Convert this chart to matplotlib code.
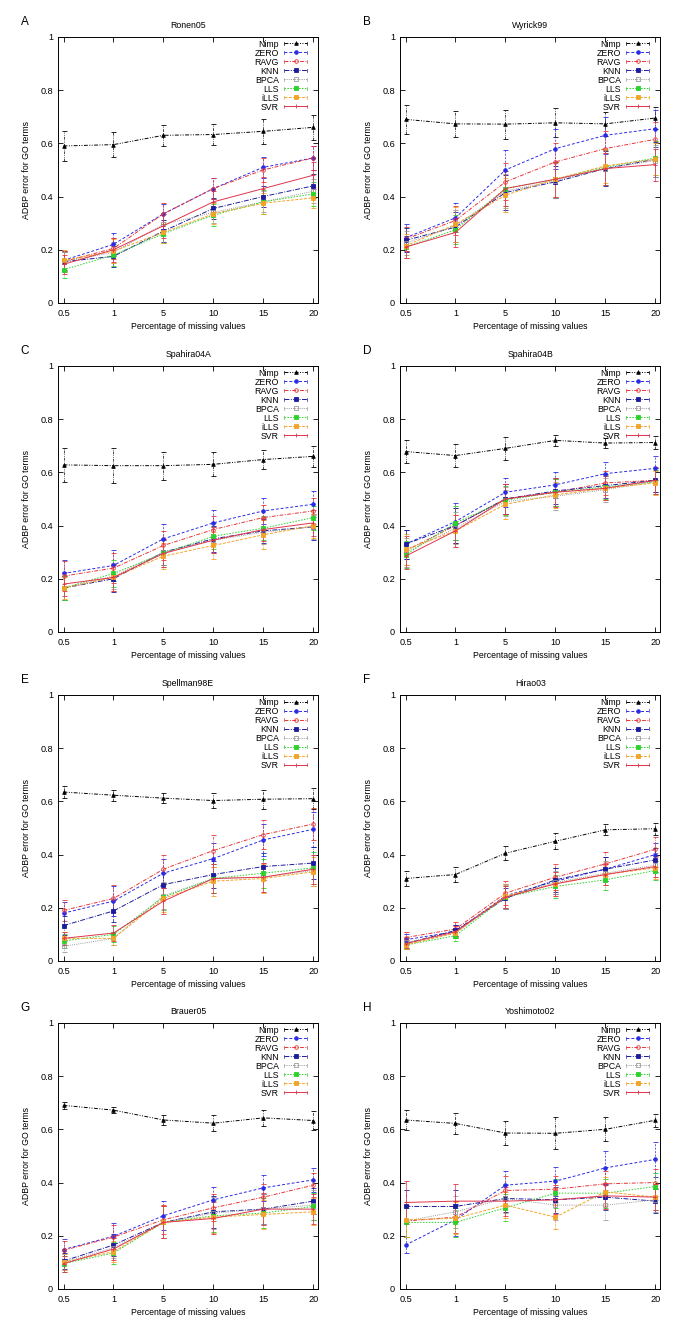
import numpy as np
import matplotlib
matplotlib.use('Agg')
import matplotlib.pyplot as plt
from matplotlib.ticker import FuncFormatter
from matplotlib.legend_handler import HandlerLine2D
from matplotlib.lines import Line2D

plt.rcParams['font.family'] = ['Liberation Sans', 'DejaVu Sans']

methods = ['Nimp', 'ZERO', 'RAVG', 'KNN', 'BPCA', 'LLS', 'iLLS', 'SVR']
missing = ['0.5', '1', '5', '10', '15', '20']
letters = ['A', 'B', 'C', 'D', 'E', 'F', 'G', 'H']
datasets = ['Ronen05', 'Wyrick99', 'Spahira04A', 'Spahira04B',
            'Spellman98E', 'Hirao03', 'Brauer05', 'Yoshimoto02']

# mean ADBP error, one row per method (same order as methods)
ronen05_mean = [
    [0.590, 0.595, 0.630, 0.633, 0.645, 0.660],
    [0.160, 0.220, 0.335, 0.430, 0.510, 0.545],
    [0.155, 0.205, 0.335, 0.430, 0.500, 0.545],
    [0.155, 0.175, 0.270, 0.355, 0.400, 0.440],
    [0.155, 0.190, 0.295, 0.340, 0.380, 0.420],
    [0.125, 0.180, 0.260, 0.330, 0.380, 0.410],
    [0.160, 0.195, 0.265, 0.335, 0.375, 0.395],
    [0.145, 0.200, 0.290, 0.380, 0.430, 0.480],
]
ronen05_err = [
    [0.055, 0.048, 0.040, 0.040, 0.048, 0.048],
    [0.035, 0.042, 0.038, 0.038, 0.040, 0.045],
    [0.040, 0.040, 0.040, 0.040, 0.045, 0.045],
    [0.035, 0.040, 0.040, 0.038, 0.040, 0.045],
    [0.035, 0.040, 0.040, 0.040, 0.040, 0.045],
    [0.030, 0.040, 0.035, 0.040, 0.045, 0.045],
    [0.040, 0.045, 0.040, 0.040, 0.040, 0.040],
    [0.035, 0.045, 0.045, 0.040, 0.045, 0.050],
]

wyrick99_mean = [
    [0.690, 0.673, 0.672, 0.677, 0.673, 0.695],
    [0.245, 0.320, 0.500, 0.580, 0.630, 0.655],
    [0.240, 0.310, 0.455, 0.530, 0.580, 0.615],
    [0.235, 0.285, 0.415, 0.455, 0.505, 0.540],
    [0.225, 0.290, 0.420, 0.460, 0.505, 0.535],
    [0.210, 0.275, 0.430, 0.465, 0.510, 0.545],
    [0.215, 0.295, 0.405, 0.465, 0.515, 0.540],
    [0.210, 0.265, 0.430, 0.465, 0.505, 0.520],
]
wyrick99_err = [
    [0.055, 0.050, 0.055, 0.055, 0.045, 0.040],
    [0.050, 0.055, 0.075, 0.075, 0.070, 0.070],
    [0.045, 0.055, 0.070, 0.070, 0.065, 0.065],
    [0.045, 0.055, 0.065, 0.060, 0.065, 0.065],
    [0.045, 0.060, 0.065, 0.065, 0.060, 0.060],
    [0.040, 0.055, 0.065, 0.065, 0.065, 0.065],
    [0.045, 0.065, 0.065, 0.065, 0.065, 0.060],
    [0.040, 0.055, 0.065, 0.065, 0.060, 0.060],
]

spahira04a_mean = [
    [0.628, 0.625, 0.625, 0.630, 0.648, 0.660],
    [0.220, 0.250, 0.350, 0.410, 0.455, 0.480],
    [0.210, 0.240, 0.325, 0.385, 0.430, 0.455],
    [0.165, 0.200, 0.300, 0.350, 0.380, 0.395],
    [0.165, 0.210, 0.300, 0.345, 0.375, 0.395],
    [0.165, 0.220, 0.295, 0.360, 0.390, 0.430],
    [0.165, 0.205, 0.285, 0.325, 0.365, 0.400],
    [0.180, 0.205, 0.295, 0.345, 0.385, 0.410],
]
spahira04a_err = [
    [0.065, 0.065, 0.053, 0.045, 0.037, 0.040],
    [0.050, 0.058, 0.055, 0.050, 0.048, 0.048],
    [0.055, 0.055, 0.055, 0.050, 0.048, 0.050],
    [0.045, 0.050, 0.050, 0.050, 0.045, 0.050],
    [0.045, 0.050, 0.050, 0.050, 0.045, 0.045],
    [0.045, 0.050, 0.050, 0.050, 0.045, 0.045],
    [0.040, 0.050, 0.050, 0.050, 0.055, 0.045],
    [0.045, 0.050, 0.050, 0.050, 0.045, 0.050],
]

spahira04b_mean = [
    [0.678, 0.663, 0.690, 0.720, 0.710, 0.712],
    [0.330, 0.415, 0.525, 0.553, 0.595, 0.615],
    [0.305, 0.400, 0.500, 0.525, 0.560, 0.570],
    [0.330, 0.400, 0.500, 0.530, 0.550, 0.570],
    [0.300, 0.390, 0.490, 0.510, 0.535, 0.565],
    [0.290, 0.410, 0.495, 0.525, 0.545, 0.565],
    [0.310, 0.380, 0.480, 0.515, 0.540, 0.560],
    [0.285, 0.380, 0.500, 0.525, 0.540, 0.570],
]
spahira04b_err = [
    [0.042, 0.043, 0.042, 0.020, 0.020, 0.025],
    [0.055, 0.070, 0.055, 0.050, 0.045, 0.045],
    [0.055, 0.065, 0.055, 0.050, 0.045, 0.045],
    [0.055, 0.065, 0.055, 0.050, 0.045, 0.045],
    [0.055, 0.060, 0.055, 0.050, 0.045, 0.045],
    [0.050, 0.065, 0.055, 0.050, 0.045, 0.045],
    [0.060, 0.060, 0.055, 0.050, 0.045, 0.045],
    [0.050, 0.060, 0.055, 0.055, 0.045, 0.050],
]

spellman98e_mean = [
    [0.635, 0.623, 0.612, 0.603, 0.608, 0.610],
    [0.180, 0.225, 0.330, 0.385, 0.455, 0.495],
    [0.190, 0.235, 0.345, 0.415, 0.475, 0.515],
    [0.133, 0.188, 0.287, 0.325, 0.355, 0.368],
    [0.055, 0.085, 0.245, 0.310, 0.315, 0.340],
    [0.075, 0.100, 0.240, 0.310, 0.330, 0.350],
    [0.085, 0.085, 0.235, 0.300, 0.310, 0.335],
    [0.085, 0.105, 0.225, 0.310, 0.315, 0.345],
]
spellman98e_err = [
    [0.022, 0.020, 0.018, 0.028, 0.035, 0.040],
    [0.040, 0.055, 0.055, 0.060, 0.060, 0.065],
    [0.040, 0.050, 0.055, 0.060, 0.055, 0.060],
    [0.035, 0.040, 0.045, 0.050, 0.050, 0.060],
    [0.020, 0.025, 0.050, 0.055, 0.055, 0.060],
    [0.025, 0.030, 0.050, 0.055, 0.055, 0.060],
    [0.025, 0.025, 0.050, 0.055, 0.055, 0.055],
    [0.025, 0.030, 0.050, 0.055, 0.055, 0.055],
]

hirao03_mean = [
    [0.310, 0.325, 0.405, 0.450, 0.493, 0.497],
    [0.080, 0.110, 0.245, 0.300, 0.345, 0.400],
    [0.088, 0.120, 0.255, 0.315, 0.365, 0.420],
    [0.065, 0.115, 0.235, 0.305, 0.345, 0.380],
    [0.070, 0.105, 0.240, 0.295, 0.330, 0.360],
    [0.060, 0.095, 0.240, 0.280, 0.305, 0.340],
    [0.060, 0.105, 0.245, 0.290, 0.325, 0.350],
    [0.065, 0.110, 0.240, 0.290, 0.325, 0.355],
]
hirao03_err = [
    [0.030, 0.028, 0.027, 0.030, 0.020, 0.022],
    [0.020, 0.025, 0.045, 0.050, 0.045, 0.045],
    [0.020, 0.025, 0.045, 0.050, 0.045, 0.045],
    [0.020, 0.020, 0.040, 0.045, 0.045, 0.045],
    [0.020, 0.020, 0.045, 0.045, 0.045, 0.045],
    [0.015, 0.020, 0.040, 0.045, 0.040, 0.035],
    [0.015, 0.020, 0.045, 0.045, 0.040, 0.040],
    [0.015, 0.020, 0.040, 0.045, 0.040, 0.040],
]

brauer05_mean = [
    [0.690, 0.672, 0.635, 0.623, 0.643, 0.633],
    [0.148, 0.198, 0.275, 0.335, 0.380, 0.410],
    [0.145, 0.195, 0.260, 0.305, 0.345, 0.390],
    [0.105, 0.165, 0.250, 0.290, 0.300, 0.330],
    [0.100, 0.155, 0.250, 0.285, 0.300, 0.315],
    [0.095, 0.135, 0.250, 0.275, 0.285, 0.310],
    [0.100, 0.140, 0.250, 0.270, 0.280, 0.290],
    [0.095, 0.150, 0.250, 0.265, 0.300, 0.300],
]
brauer05_err = [
    [0.012, 0.012, 0.020, 0.030, 0.030, 0.035],
    [0.040, 0.050, 0.055, 0.050, 0.050, 0.045],
    [0.035, 0.045, 0.055, 0.050, 0.050, 0.045],
    [0.030, 0.040, 0.060, 0.060, 0.055, 0.050],
    [0.030, 0.040, 0.060, 0.060, 0.055, 0.055],
    [0.030, 0.040, 0.060, 0.060, 0.055, 0.050],
    [0.030, 0.040, 0.060, 0.060, 0.055, 0.050],
    [0.030, 0.040, 0.060, 0.060, 0.060, 0.055],
]

yoshimoto02_mean = [
    [0.635, 0.622, 0.586, 0.585, 0.600, 0.634],
    [0.165, 0.260, 0.390, 0.405, 0.455, 0.487],
    [0.255, 0.270, 0.370, 0.375, 0.395, 0.400],
    [0.310, 0.310, 0.340, 0.335, 0.345, 0.330],
    [0.255, 0.290, 0.340, 0.315, 0.315, 0.335],
    [0.250, 0.250, 0.305, 0.360, 0.360, 0.385],
    [0.260, 0.265, 0.315, 0.270, 0.365, 0.345],
    [0.325, 0.330, 0.330, 0.335, 0.350, 0.345],
]
yoshimoto02_err = [
    [0.037, 0.038, 0.045, 0.060, 0.045, 0.025],
    [0.030, 0.060, 0.055, 0.055, 0.065, 0.065],
    [0.060, 0.060, 0.055, 0.050, 0.050, 0.050],
    [0.060, 0.060, 0.050, 0.050, 0.050, 0.045],
    [0.060, 0.060, 0.055, 0.055, 0.055, 0.045],
    [0.055, 0.055, 0.050, 0.055, 0.055, 0.050],
    [0.065, 0.060, 0.050, 0.045, 0.055, 0.050],
    [0.080, 0.065, 0.055, 0.055, 0.050, 0.050],
]

means = [ronen05_mean, wyrick99_mean, spahira04a_mean, spahira04b_mean,
         spellman98e_mean, hirao03_mean, brauer05_mean, yoshimoto02_mean]
errs = [ronen05_err, wyrick99_err, spahira04a_err, spahira04b_err,
        spellman98e_err, hirao03_err, brauer05_err, yoshimoto02_err]

# gnuplot-ish styles
colors = ['#000000', '#2a2ae6', '#e83535', '#1c1c9c', '#9a9a9a',
          '#2ad22a', '#f2a428', '#e0344c']
dashes = [(0, (4, 1.5, 1, 1.5, 1, 1.5)), (0, (3, 2)), (0, (4, 1.5, 1, 1.5)),
          (0, (5, 1.5, 1, 1.5)), (0, (1, 1.2)), (0, (1.5, 1.5)),
          (0, (3, 1.5)), '-']
markers = ['^', 'o', 'o', 's', 's', 's', 's', '+']
mfcs = ['#000000', '#2a2ae6', 'none', '#1c1c9c', 'none', '#2ad22a',
        '#f2a428', '#e0344c']


class CapHandler(HandlerLine2D):
    # legend sample like gnuplot's yerrorlines key: |---o---|
    def create_artists(self, legend, orig_handle, xdescent, ydescent,
                       width, height, fontsize, trans):
        arts = super().create_artists(legend, orig_handle, xdescent, ydescent,
                                      width, height, fontsize, trans)
        y = height / 2 - ydescent
        h = height * 0.3
        for xx in (-xdescent, width - xdescent):
            cap = Line2D([xx, xx], [y - h, y + h], color=orig_handle.get_color(),
                         linewidth=0.5)
            cap.set_transform(trans)
            arts.append(cap)
        return arts


fs = 6.3
fig = plt.figure(figsize=(6.85, 13.31), dpi=100)

lefts = [0.0847, 0.584]
bottoms = [0.7724, 0.5252, 0.278, 0.0316]

x = np.arange(len(missing))
for k in range(8):
    r, c = k // 2, k % 2
    ax = fig.add_axes([lefts[c], bottoms[r], 0.380, 0.1999])
    handles = []
    for m in range(len(methods)):
        cont = ax.errorbar(x, means[k][m], yerr=errs[k][m], color=colors[m],
                           linestyle=dashes[m], linewidth=0.7,
                           marker=markers[m], markersize=2.6,
                           markerfacecolor=mfcs[m], markeredgewidth=0.6,
                           elinewidth=0.5, capsize=1.8, capthick=0.5)
        for bar in cont[2]:
            bar.set_linestyle(dashes[m] if m != 7 else '-')
        handles.append(cont[0])

    ax.set_xlim(-0.11, 5.1)
    ax.set_ylim(0, 1)
    ax.set_xticks(x)
    ax.set_xticklabels(missing)
    ax.set_yticks(np.arange(0, 1.01, 0.2))
    ax.yaxis.set_major_formatter(FuncFormatter(lambda v, p: '%g' % round(v, 2)))
    ax.tick_params(direction='in', length=3.5, width=0.6, labelsize=6.6,
                   top=True, right=True)
    ax.tick_params(axis='x', pad=4.5)
    ax.tick_params(axis='y', pad=3.5)
    for s in ax.spines.values():
        s.set_linewidth(0.7)

    ax.set_title(datasets[k], fontsize=fs, pad=6.5)
    ax.set_xlabel('Percentage of missing values', fontsize=fs, labelpad=2.5)
    ax.set_ylabel('ADBP error for GO terms', fontsize=fs, labelpad=7)
    ax.text(-0.127, 1.056, letters[k], transform=ax.transAxes,
            fontsize=8.5, ha='center', va='center')

    ax.legend(handles, methods, loc='upper right', bbox_to_anchor=(0.958, 0.99),
              frameon=False, fontsize=fs, markerfirst=False, handlelength=2.7,
              handletextpad=0.55, labelspacing=0.0, borderpad=0, borderaxespad=0,
              handler_map={Line2D: CapHandler()})

fig.savefig('out.png', dpi=100, facecolor='white')
